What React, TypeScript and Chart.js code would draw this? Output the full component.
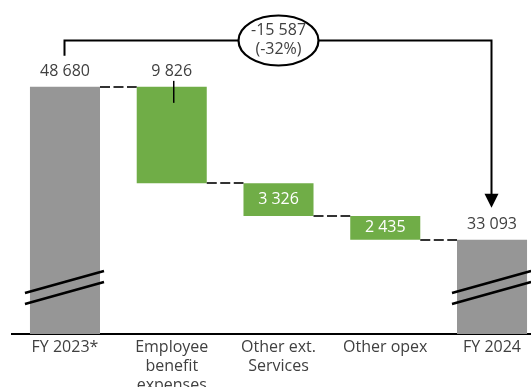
import React, { useEffect, useRef } from "react";
import { Chart, registerables } from "chart.js";
Chart.register(...registerables);

const categories: string[][] = [
  ["FY 2023*"],
  ["Employee", "benefit", "expenses"],
  ["Other ext.", "Services"],
  ["Other opex"],
  ["FY 2024"],
];
const startTotal = 48680;
const decreases = [9826, 3326, 2435];
const endTotal = 33093;
const axisMin = 23500;
const axisMax = 57530;
const barColors = ["#969696", "#70AD47", "#70AD47", "#70AD47", "#969696"];
const labelPlacement = ["above", "above", "inside", "inside", "above"];
const labelValues = [startTotal, ...decreases, endTotal];

const FONT = "'Open Sans', sans-serif";
const TEXT = "#404040";

function fmt(n: number): string {
  return Math.round(Math.abs(n))
    .toString()
    .replace(/\B(?=(\d{3})+(?!\d))/g, " ");
}

function buildBars(): [number, number][] {
  const out: [number, number][] = [[axisMin, startTotal]];
  let running = startTotal;
  for (const d of decreases) {
    out.push([running - d, running]);
    running -= d;
  }
  out.push([axisMin, endTotal]);
  return out;
}

const bars = buildBars();

const overlayPlugin = {
  id: "overlay",
  afterDatasetsDraw(chart: any) {
    const ctx: CanvasRenderingContext2D = chart.ctx;
    const meta = chart.getDatasetMeta(0);
    const ys = chart.scales.y;
    const xs = chart.scales.x;
    const area = chart.chartArea;
    const els = meta.data;
    const n = els.length;
    const edges = (el: any) => {
      const w = el.width;
      return { l: el.x - w / 2, r: el.x + w / 2 };
    };

    ctx.save();
    // connectors
    ctx.strokeStyle = "#333";
    ctx.lineWidth = 2;
    ctx.setLineDash([10, 3.5]);
    for (let i = 0; i < n - 1; i++) {
      const isTotal = i === 0;
      const level = isTotal ? bars[i][1] : bars[i][0];
      const y = Math.round(ys.getPixelForValue(level));
      const a = edges(els[i]);
      const b = edges(els[i + 1]);
      ctx.beginPath();
      ctx.moveTo(a.r, y);
      ctx.lineTo(b.l, y);
      ctx.stroke();
    }
    ctx.setLineDash([]);

    // break marks on total bars
    ctx.strokeStyle = "#000";
    ctx.lineWidth = 2.5;
    for (const i of [0, n - 1]) {
      const e = edges(els[i]);
      const b = area.bottom;
      ctx.beginPath();
      ctx.moveTo(e.l - 5, b - 41);
      ctx.lineTo(e.r + 4, b - 63);
      ctx.moveTo(e.l - 5, b - 30);
      ctx.lineTo(e.r + 4, b - 52);
      ctx.stroke();
    }

    // labels
    ctx.font = `16px ${FONT}`;
    ctx.textAlign = "center";
    ctx.textBaseline = "middle";
    const labelY: number[] = [];
    for (let i = 0; i < n; i++) {
      const el = els[i];
      const top = Math.min(el.y, el.base);
      const bot = Math.max(el.y, el.base);
      const txt = fmt(labelValues[i]);
      if (labelPlacement[i] === "above") {
        const y = top - 15;
        labelY[i] = y;
        ctx.fillStyle = TEXT;
        ctx.fillText(txt, el.x, y);
        if (i > 0 && i < n - 1) {
          ctx.strokeStyle = "#000";
          ctx.lineWidth = 1.5;
          ctx.beginPath();
          ctx.moveTo(el.x + 2, y + 9);
          ctx.lineTo(el.x + 2, top + 16);
          ctx.stroke();
        }
      } else {
        labelY[i] = (top + bot) / 2;
        ctx.fillStyle = "#ffffff";
        ctx.fillText(txt, el.x, (top + bot) / 2);
      }
    }

    // bracket with arrow
    const bracketY = 40.5;
    const x0 = Math.round(els[0].x) - 0.5;
    const x1 = Math.round(els[n - 1].x) - 0.5;
    const tipY = labelY[n - 1] - 17;
    ctx.strokeStyle = "#000";
    ctx.lineWidth = 2;
    ctx.beginPath();
    ctx.moveTo(x0, labelY[0] - 16);
    ctx.lineTo(x0, bracketY);
    ctx.lineTo(x1, bracketY);
    ctx.lineTo(x1, tipY - 12);
    ctx.stroke();
    ctx.fillStyle = "#000";
    ctx.beginPath();
    ctx.moveTo(x1, tipY);
    ctx.lineTo(x1 - 7, tipY - 14);
    ctx.lineTo(x1 + 7, tipY - 14);
    ctx.closePath();
    ctx.fill();

    // ellipse
    const cx = xs.getPixelForValue(2);
    ctx.beginPath();
    ctx.ellipse(cx, bracketY, 40, 25, 0, 0, Math.PI * 2);
    ctx.fillStyle = "#fff";
    ctx.fill();
    ctx.lineWidth = 2.2;
    ctx.stroke();
    const diff = endTotal - startTotal;
    const pct = Math.round((diff / startTotal) * 100);
    ctx.fillStyle = TEXT;
    ctx.font = `16px ${FONT}`;
    ctx.fillText((diff < 0 ? "-" : "") + fmt(diff), cx, bracketY - 10);
    ctx.fillText(`(${pct}%)`, cx, bracketY + 9);
    ctx.restore();
  },
};

export default function App() {
  const ref = useRef<HTMLCanvasElement>(null);
  useEffect(() => {
    document.body.style.margin = "0";
    document.body.style.overflow = "hidden";
    const chart = new Chart(ref.current as HTMLCanvasElement, {
      type: "bar",
      data: {
        labels: categories as any,
        datasets: [
          {
            data: bars as any,
            backgroundColor: barColors,
            borderWidth: 0,
            barPercentage: 0.656,
            categoryPercentage: 1,
          },
        ],
      },
      options: {
        responsive: false,
        animation: false,
        devicePixelRatio: 1,
        layout: { padding: { left: 11.6, right: 0.6, top: 0, bottom: 0 } },
        plugins: { legend: { display: false }, tooltip: { enabled: false } },
        scales: {
          x: {
            grid: { display: false, drawTicks: false },
            border: { display: true, color: "#000", width: 2 },
            ticks: {
              padding: 4,
              color: TEXT,
              autoSkip: false,
              maxRotation: 0,
              font: { family: FONT, size: 16, lineHeight: 1.19 },
            },
            afterFit: (s: any) => {
              s.height = 53;
            },
          },
          y: { display: false, min: axisMin, max: axisMax },
        },
      },
      plugins: [overlayPlugin],
    });
    return () => chart.destroy();
  }, []);
  return (
    <div
      style={{
        position: "fixed",
        left: 0,
        top: 0,
        width: 531,
        height: 387,
        overflow: "hidden",
        background: "#fff",
      }}
    >
      <canvas ref={ref} width={546} height={387} style={{ display: "block", width: 546, height: 387 }} />
    </div>
  );
}
